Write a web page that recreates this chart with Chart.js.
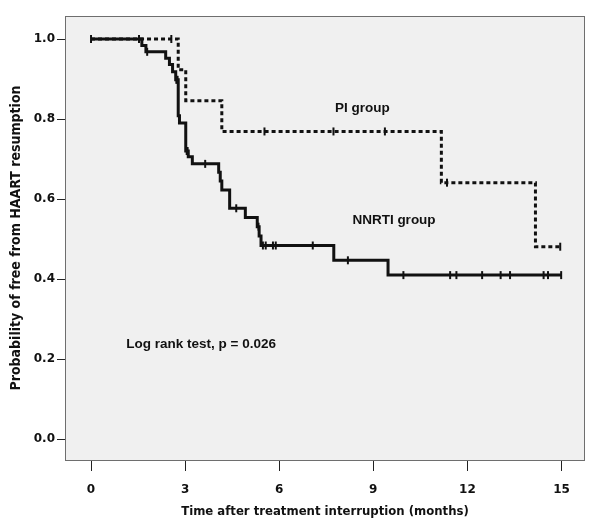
<!DOCTYPE html>
<html>
<head>
<meta charset="utf-8">
<script src="https://cdn.jsdelivr.net/npm/chart.js@4"></script>
<style>
  html, body { margin: 0; padding: 0; background: #fff; }
  #wrap { width: 600px; height: 523px; }
</style>
</head>
<body>
<div id="wrap"><canvas id="km"></canvas></div>
<script>
// Kaplan-Meier steps (months, survival after the drop)
const nnrtiTimes = [0, 1.62, 1.75, 2.38, 2.5, 2.6, 2.7, 2.78, 2.82, 3.02, 3.1, 3.23, 4.07, 4.12, 4.17, 4.42, 4.92, 5.3, 5.36, 5.42, 7.74, 9.47, 15];
const nnrtiSurv  = [1, 0.984, 0.968, 0.952, 0.936, 0.918, 0.898, 0.808, 0.79, 0.72, 0.706, 0.688, 0.667, 0.645, 0.623, 0.577, 0.554, 0.531, 0.508, 0.484, 0.447, 0.41, 0.41];
const nnrtiCensored = [0, 1.53, 1.79, 2.72, 2.76, 3.05, 3.08, 3.64, 4.63, 5.34, 5.48, 5.57, 5.8, 5.89, 7.07, 8.19, 9.96, 11.45, 11.65, 12.47, 13.06, 13.36, 14.43, 14.57, 14.99];

const piTimes = [0, 2.78, 3.02, 4.17, 11.17, 14.17, 15];
const piSurv  = [1, 0.923, 0.846, 0.769, 0.641, 0.481, 0.481];
const piCensored = [2.56, 5.53, 7.73, 9.37, 11.35, 14.96];

const xTicks = [0, 3, 6, 9, 12, 15];
const yTicks = [0, 0.2, 0.4, 0.6, 0.8, 1.0];

// text labels placed in data units
const notes = [
  { text: 'PI group', x: 8.65, y: 0.828 },
  { text: 'NNRTI group', x: 9.66, y: 0.548 },
  { text: 'Log rank test, p = 0.026', x: 3.51, y: 0.238 }
];

// survival value at time t (last step at or before t)
function survAt(times, surv, t) {
  let s = surv[0];
  for (let i = 0; i < times.length; i++) {
    if (times[i] <= t) s = surv[i];
  }
  return s;
}

const toPoints = (xs, ys) => xs.map((x, i) => ({ x: x, y: ys[i] }));

const nnrtiLine = toPoints(nnrtiTimes, nnrtiSurv);
const piLine = toPoints(piTimes, piSurv);
const nnrtiMarks = nnrtiCensored.map(t => ({ x: t, y: survAt(nnrtiTimes, nnrtiSurv, t) }));
const piMarks = piCensored.map(t => ({ x: t, y: survAt(piTimes, piSurv, t) }));

const boxPlugin = {
  id: 'box',
  beforeDraw(chart) {
    const { ctx, chartArea: a } = chart;
    ctx.save();
    ctx.fillStyle = '#f0f0f0';
    ctx.fillRect(a.left, a.top, a.right - a.left, a.bottom - a.top);
    ctx.restore();
  },
  afterDraw(chart) {
    const { ctx, chartArea: a } = chart;
    ctx.save();
    ctx.strokeStyle = '#6e6e6e';
    ctx.lineWidth = 1;
    ctx.strokeRect(a.left + 0.5, a.top + 0.5, a.right - a.left - 1, a.bottom - a.top);
    ctx.restore();
  },
  afterDatasetsDraw(chart) {
    const { ctx, scales } = chart;
    ctx.save();
    ctx.fillStyle = '#111';
    ctx.font = 'bold 13.5px "Liberation Sans", Arial, sans-serif';
    ctx.textAlign = 'center';
    ctx.textBaseline = 'middle';
    notes.forEach(n => {
      ctx.fillText(n.text, scales.x.getPixelForValue(n.x), scales.y.getPixelForValue(n.y));
    });
    ctx.restore();
  }
};

const tickFont = { family: '"DejaVu Sans"', weight: 'bold', size: 12 };

new Chart(document.getElementById('km'), {
  type: 'line',
  data: {
    datasets: [
      {
        data: piLine,
        stepped: true,
        borderColor: '#111',
        borderWidth: 3,
        borderDash: [4, 3],
        pointRadius: 0,
        fill: false
      },
      {
        data: nnrtiLine,
        stepped: true,
        borderColor: '#111',
        borderWidth: 3,
        pointRadius: 0,
        fill: false
      },
      {
        data: piMarks,
        showLine: false,
        pointStyle: 'line',
        rotation: 90,
        pointRadius: 4,
        pointBorderWidth: 2,
        pointBorderColor: '#111'
      },
      {
        data: nnrtiMarks,
        showLine: false,
        pointStyle: 'line',
        rotation: 90,
        pointRadius: 4,
        pointBorderWidth: 2,
        pointBorderColor: '#111'
      }
    ]
  },
  options: {
    responsive: true,
    maintainAspectRatio: false,
    animation: false,
    layout: { padding: { top: 16, right: 15 } },
    plugins: {
      legend: { display: false },
      tooltip: { enabled: false }
    },
    scales: {
      x: {
        type: 'linear',
        min: -0.83,
        max: 15.75,
        afterBuildTicks: s => { s.ticks = xTicks.map(v => ({ value: v })); },
        afterFit: s => { s.height = 63; },
        grid: { display: true, drawOnChartArea: false, drawTicks: true, tickLength: 11, color: '#222', lineWidth: 1 },
        border: { display: false },
        ticks: { color: '#111', font: tickFont, padding: 12, maxRotation: 0 },
        title: {
          display: true,
          text: 'Time after treatment interruption (months)',
          color: '#111',
          font: { family: '"DejaVu Sans Condensed"', weight: 'bold', size: 13 },
          padding: { top: 4 }
        }
      },
      y: {
        min: -0.052,
        max: 1.0575,
        afterBuildTicks: s => { s.ticks = yTicks.map(v => ({ value: v })); },
        afterFit: s => { s.width = 65; },
        grid: { display: true, drawOnChartArea: false, drawTicks: true, tickLength: 8, color: '#222', lineWidth: 1 },
        border: { display: false },
        ticks: { color: '#111', font: tickFont, padding: 2, callback: v => v.toFixed(1) },
        title: {
          display: true,
          text: 'Probability of free from HAART resumption',
          color: '#111',
          font: { family: '"DejaVu Sans Condensed"', weight: 'bold', size: 14 },
          padding: { top: 8, bottom: 0 }
        }
      }
    }
  },
  plugins: [boxPlugin]
});
</script>
</body>
</html>
